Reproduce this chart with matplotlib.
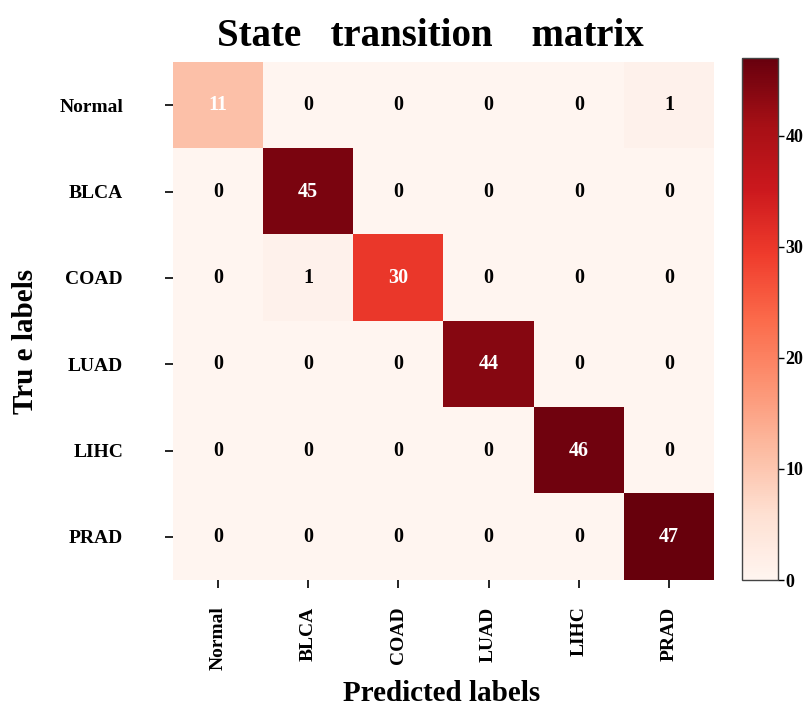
import numpy as np
import matplotlib.pyplot as plt
import matplotlib as mpl

plt.rcParams['font.family'] = ['Liberation Serif', 'DejaVu Serif']
plt.rcParams['font.weight'] = 'bold'

labels = ['Normal', 'BLCA', 'COAD', 'LUAD', 'LIHC', 'PRAD']
# rows = true labels, columns = predicted labels
cm = np.array([
    [11, 0, 0, 0, 0, 1],
    [0, 45, 0, 0, 0, 0],
    [0, 1, 30, 0, 0, 0],
    [0, 0, 0, 44, 0, 0],
    [0, 0, 0, 0, 46, 0],
    [0, 0, 0, 0, 0, 47],
])
cbar_ticks = [0, 10, 20, 30, 40]

fig = plt.figure(figsize=(8.09, 7.09), dpi=100)
ax = fig.add_axes([0.2139, 0.1819, 0.6687, 0.7306])
cax = fig.add_axes([0.9172, 0.1819, 0.0445, 0.7362])

im = ax.imshow(cm, cmap='Reds', vmin=0, vmax=cm.max(), aspect='auto',
               interpolation='nearest')

for i in range(cm.shape[0]):
    for j in range(cm.shape[1]):
        v = cm[i, j]
        ax.text(j, i, str(v), ha='center', va='center', fontsize=14.5,
                fontweight='bold', color='white' if v >= 10 else 'black')

ax.set_xticks(range(len(labels)))
ax.set_yticks(range(len(labels)))
ax.set_xticklabels(labels, rotation=90, fontsize=14, fontweight='bold')
ax.set_yticklabels(labels, fontsize=14, fontweight='bold')
ax.tick_params(axis='y', length=6, width=1.2, pad=30)
ax.tick_params(axis='x', length=6, width=1.2, pad=13)
for s in ax.spines.values():
    s.set_visible(False)

cb = fig.colorbar(im, cax=cax, ticks=cbar_ticks)
cb.outline.set_linewidth(1.0)
cb.outline.set_edgecolor('#444444')
cb.ax.tick_params(length=4, width=1, pad=1.5)
for t in cb.ax.get_yticklabels():
    t.set_fontweight('bold')
    t.set_fontsize(13)

fig.text(0.5315, 0.948, 'State   transition    matrix', ha='center', va='center',
         fontsize=28, fontweight='bold')
fig.text(0.546, 0.022, 'Predicted labels', ha='center', va='center',
         fontsize=21, fontweight='bold')
fig.text(0.031, 0.518, 'Tru e labels', ha='center', va='center',
         rotation=90, fontsize=21, fontweight='bold')

fig.savefig('out.png', dpi=100)
